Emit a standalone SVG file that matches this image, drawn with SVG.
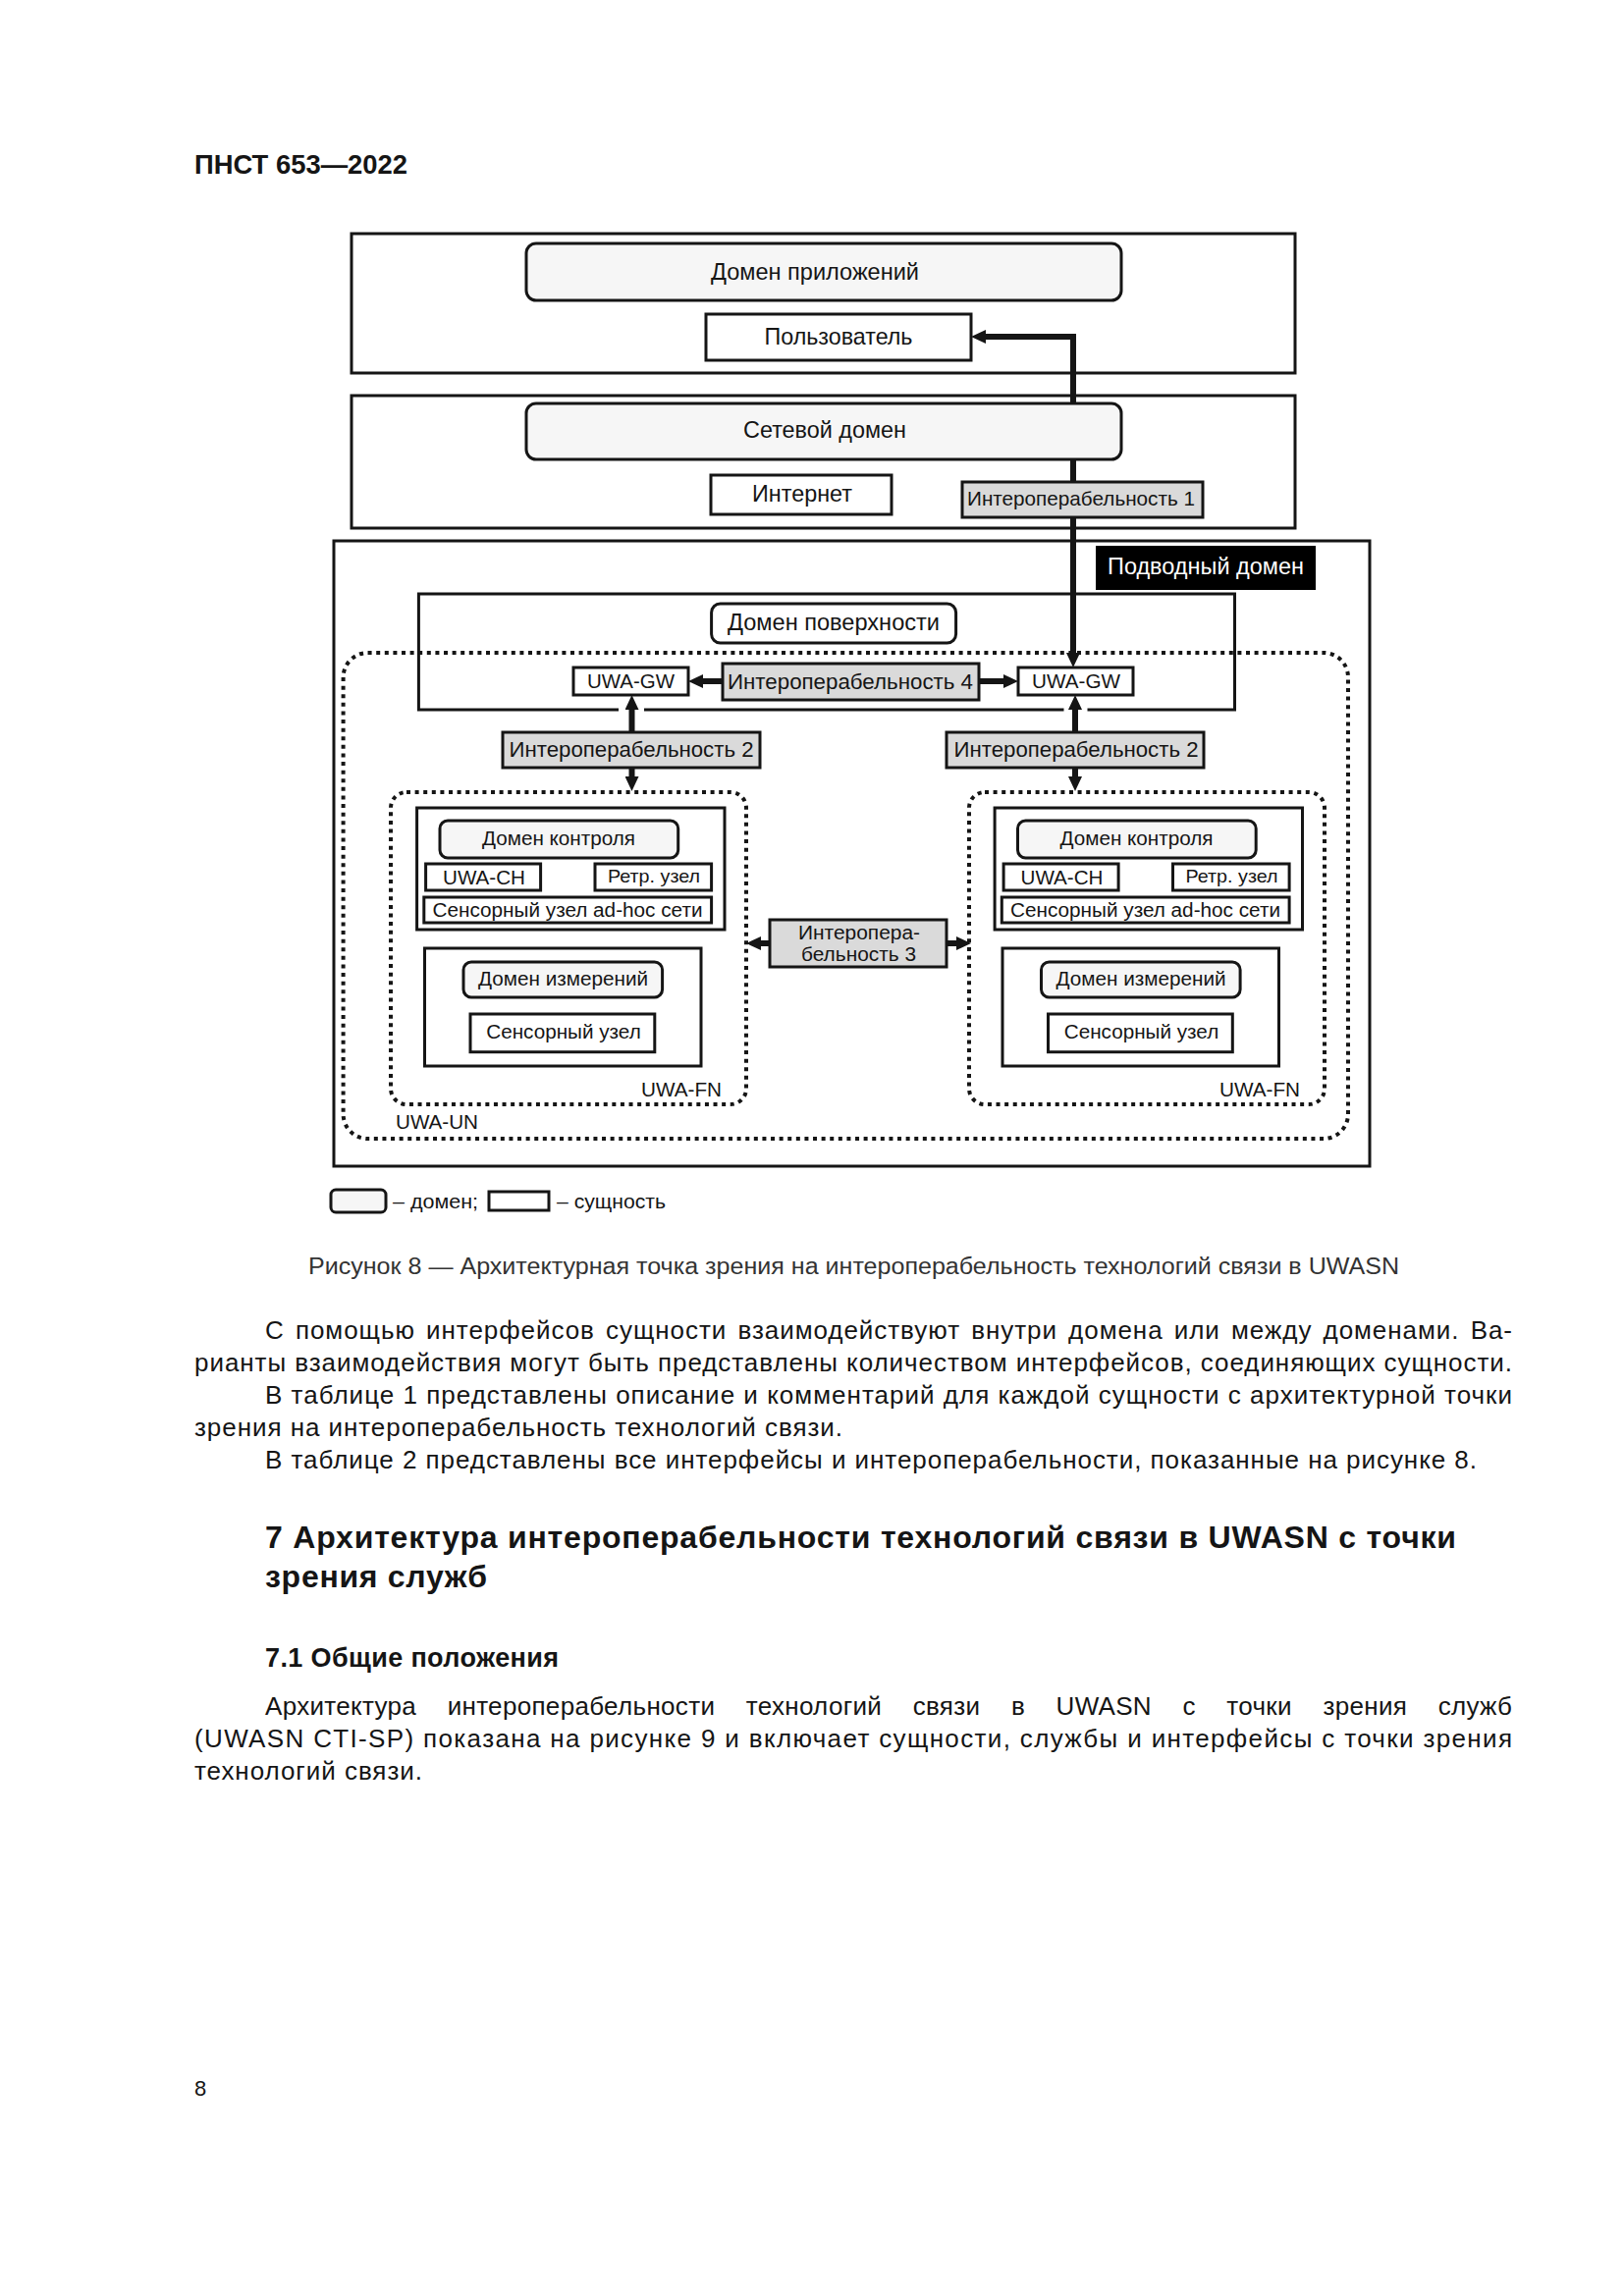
<svg xmlns="http://www.w3.org/2000/svg" width="1654" height="2339" viewBox="0 0 1654 2339">
<defs>
<style>
text{font-family:"Liberation Sans",Arial,sans-serif;fill:#151515}
.c{text-anchor:middle}
.box{fill:#fff;stroke:#151515;stroke-width:3}
.dom{fill:#f6f6f6;stroke:#151515;stroke-width:3}
.ent{fill:#fff;stroke:#151515;stroke-width:3}
.iop{fill:#dadada;stroke:#151515;stroke-width:3}
.dot{fill:none;stroke:#151515;stroke-width:4;stroke-dasharray:4 4.6}
.conn{fill:none;stroke:#151515;stroke-width:6}
.body{font-size:26px}
</style>
<marker id="ah" viewBox="0 0 15 14" refX="0" refY="7" markerWidth="15" markerHeight="14" markerUnits="userSpaceOnUse" orient="auto-start-reverse">
<path d="M0,0 L15,7 L0,14 z" fill="#151515"/>
</marker>
</defs>
<rect width="1654" height="2339" fill="#fff"/>

<text x="198" y="177" font-size="27" font-weight="bold" textLength="217" lengthAdjust="spacingAndGlyphs">ПНСТ 653—2022</text>

<!-- containers -->
<g id="app-domain-area"><rect class="box" x="358" y="238" width="961" height="142"/></g>
<g id="network-domain-area"><rect class="box" x="358" y="403" width="961" height="135"/></g>
<g id="underwater-domain-area"><rect class="box" x="340" y="551" width="1055" height="637"/></g>
<g id="surface-area"><path d="M656,723 H1083.5 M1107.5,723 H1257.5 V605 H426.4 V723 H630" fill="none" stroke="#151515" stroke-width="3"/></g>
<g id="uwa-un"><rect class="dot" x="349.6" y="665" width="1023.4" height="495" rx="25"/>
<text x="403" y="1150" font-size="20.5" textLength="84" lengthAdjust="spacingAndGlyphs">UWA-UN</text></g>
<g id="uwa-fn-left"><rect class="dot" x="398" y="807" width="362" height="318" rx="16"/>
<text x="735" y="1117" font-size="20.5" text-anchor="end" textLength="82" lengthAdjust="spacingAndGlyphs">UWA-FN</text></g>
<g id="uwa-fn-right" transform="translate(589,0)"><rect class="dot" x="398" y="807" width="362" height="318" rx="16"/>
<text x="735" y="1117" font-size="20.5" text-anchor="end" textLength="82" lengthAdjust="spacingAndGlyphs">UWA-FN</text></g>

<!-- connectors -->
<g id="connectors">
<path class="conn" d="M1093,665 V343 H1004" marker-start="url(#ah)" marker-end="url(#ah)"/>
<path class="conn" d="M736,694 H716" marker-end="url(#ah)"/>
<path class="conn" d="M997,694 H1022" marker-end="url(#ah)"/>
<path class="conn" d="M643.5,746 V723" marker-end="url(#ah)"/>
<path class="conn" d="M643.5,782 V791" marker-end="url(#ah)"/>
<path class="conn" d="M1095,746 V723" marker-end="url(#ah)"/>
<path class="conn" d="M1095,782 V791" marker-end="url(#ah)"/>
<path class="conn" d="M784,961 H775" marker-end="url(#ah)"/>
<path class="conn" d="M964,961 H974" marker-end="url(#ah)"/>
</g>

<!-- nodes -->
<g id="domain-app"><rect class="dom" x="536" y="248" width="606" height="58" rx="10"/>
<text class="c" x="830" y="285" font-size="24" textLength="212" lengthAdjust="spacingAndGlyphs">Домен приложений</text></g>
<g id="user"><rect class="ent" x="719" y="320" width="270" height="47"/>
<text class="c" x="854" y="351" font-size="24" textLength="151" lengthAdjust="spacingAndGlyphs">Пользователь</text></g>
<g id="domain-net"><rect class="dom" x="536" y="411" width="606" height="57" rx="10"/>
<text class="c" x="840" y="446" font-size="24" textLength="166" lengthAdjust="spacingAndGlyphs">Сетевой домен</text></g>
<g id="internet"><rect class="ent" x="724" y="484" width="184" height="40"/>
<text class="c" x="817" y="511" font-size="24" textLength="102" lengthAdjust="spacingAndGlyphs">Интернет</text></g>
<g id="iop1"><rect class="iop" x="980" y="491" width="245" height="36"/>
<text class="c" x="1101" y="515" font-size="21" textLength="232" lengthAdjust="spacingAndGlyphs">Интероперабельность 1</text></g>
<g id="underwater-label"><rect x="1116" y="556" width="224" height="45" fill="#000"/>
<text class="c" x="1228" y="585" font-size="23" style="fill:#fff" textLength="200" lengthAdjust="spacingAndGlyphs">Подводный домен</text></g>
<g id="domain-surface"><rect class="ent" x="724.6" y="615" width="249" height="40" rx="9"/>
<text class="c" x="849" y="642" font-size="23" textLength="216" lengthAdjust="spacingAndGlyphs">Домен поверхности</text></g>
<g id="gw-left"><rect class="ent" x="584" y="680" width="117" height="28"/>
<text class="c" x="642.5" y="701" font-size="20" textLength="89" lengthAdjust="spacingAndGlyphs">UWA-GW</text></g>
<g id="iop4"><rect class="iop" x="736" y="676" width="261" height="37"/>
<text class="c" x="866" y="702" font-size="22" textLength="250" lengthAdjust="spacingAndGlyphs">Интероперабельность 4</text></g>
<g id="gw-right"><rect class="ent" x="1037" y="680" width="117" height="28"/>
<text class="c" x="1096" y="701" font-size="20" textLength="90" lengthAdjust="spacingAndGlyphs">UWA-GW</text></g>
<g id="iop2-left"><rect class="iop" x="512" y="746" width="262" height="36"/>
<text class="c" x="643" y="771" font-size="22" textLength="249" lengthAdjust="spacingAndGlyphs">Интероперабельность 2</text></g>
<g id="iop2-right"><rect class="iop" x="964" y="746" width="262" height="36"/>
<text class="c" x="1096" y="771" font-size="22" textLength="249" lengthAdjust="spacingAndGlyphs">Интероперабельность 2</text></g>
<g id="iop3"><rect class="iop" x="784" y="937" width="180" height="48"/>
<text class="c" x="875" y="957" font-size="20" textLength="124" lengthAdjust="spacingAndGlyphs">Интеропера-</text>
<text class="c" x="874.5" y="979" font-size="20" textLength="117" lengthAdjust="spacingAndGlyphs">бельность 3</text></g>

<g id="fn-left">
<g id="ctrl-left"><rect class="ent" x="424.6" y="823" width="313.4" height="124"/></g>
<g id="dctrl-left"><rect class="dom" x="448" y="836" width="242.7" height="38" rx="8"/>
<text class="c" x="569" y="861" font-size="20" textLength="156" lengthAdjust="spacingAndGlyphs">Домен контроля</text></g>
<g id="ch-left"><rect class="ent" x="433.6" y="880" width="117" height="27"/>
<text class="c" x="493" y="901" font-size="21" textLength="84" lengthAdjust="spacingAndGlyphs">UWA-CH</text></g>
<g id="retr-left"><rect class="ent" x="606" y="880" width="118.6" height="27"/>
<text class="c" x="666" y="899" font-size="19" textLength="94" lengthAdjust="spacingAndGlyphs">Ретр. узел</text></g>
<g id="adhoc-left"><rect class="ent" x="431.8" y="914" width="292.8" height="26"/>
<text class="c" x="578" y="934" font-size="20" textLength="275" lengthAdjust="spacingAndGlyphs">Сенсорный узел ad-hoc сети</text></g>
<g id="meas-left"><rect class="ent" x="432.5" y="966" width="281.5" height="120"/></g>
<g id="dmeas-left"><rect class="dom" x="472" y="980" width="202.6" height="36" rx="8"/>
<text class="c" x="573.5" y="1004" font-size="21" textLength="173" lengthAdjust="spacingAndGlyphs">Домен измерений</text></g>
<g id="sens-left"><rect class="ent" x="479" y="1033" width="187.8" height="38.7"/>
<text class="c" x="574" y="1058" font-size="21" textLength="157.5" lengthAdjust="spacingAndGlyphs">Сенсорный узел</text></g>
</g>

<g id="fn-right" transform="translate(588.5,0)">
<g id="ctrl-right"><rect class="ent" x="424.6" y="823" width="313.4" height="124"/></g>
<g id="dctrl-right"><rect class="dom" x="448" y="836" width="242.7" height="38" rx="8"/>
<text class="c" x="569" y="861" font-size="20" textLength="156" lengthAdjust="spacingAndGlyphs">Домен контроля</text></g>
<g id="ch-right"><rect class="ent" x="433.6" y="880" width="117" height="27"/>
<text class="c" x="493" y="901" font-size="21" textLength="84" lengthAdjust="spacingAndGlyphs">UWA-CH</text></g>
<g id="retr-right"><rect class="ent" x="606" y="880" width="118.6" height="27"/>
<text class="c" x="666" y="899" font-size="19" textLength="94" lengthAdjust="spacingAndGlyphs">Ретр. узел</text></g>
<g id="adhoc-right"><rect class="ent" x="431.8" y="914" width="292.8" height="26"/>
<text class="c" x="578" y="934" font-size="20" textLength="275" lengthAdjust="spacingAndGlyphs">Сенсорный узел ad-hoc сети</text></g>
<g id="meas-right"><rect class="ent" x="432.5" y="966" width="281.5" height="120"/></g>
<g id="dmeas-right"><rect class="dom" x="472" y="980" width="202.6" height="36" rx="8"/>
<text class="c" x="573.5" y="1004" font-size="21" textLength="173" lengthAdjust="spacingAndGlyphs">Домен измерений</text></g>
<g id="sens-right"><rect class="ent" x="479" y="1033" width="187.8" height="38.7"/>
<text class="c" x="574" y="1058" font-size="21" textLength="157.5" lengthAdjust="spacingAndGlyphs">Сенсорный узел</text></g>
</g>

<!-- legend -->
<g id="legend">
<rect class="dom" x="337" y="1212" width="56" height="23" rx="5"/>
<text x="400" y="1231" font-size="20" textLength="87" lengthAdjust="spacingAndGlyphs">– домен;</text>
<rect class="ent" x="498" y="1214" width="61" height="19"/>
<text x="567" y="1231" font-size="20" textLength="111" lengthAdjust="spacingAndGlyphs">– сущность</text>
</g>

<text x="314" y="1298" font-size="23" style="fill:#333" textLength="1111" lengthAdjust="spacingAndGlyphs">Рисунок 8 — Архитектурная точка зрения на интероперабельность технологий связи в UWASN</text>

<g id="body-text" class="body">
<text x="270" y="1364" font-size="26" word-spacing="3" textLength="1270" lengthAdjust="spacing">С помощью интерфейсов сущности взаимодействуют внутри домена или между доменами. Ва-</text>
<text x="198" y="1397" font-size="26" textLength="1342" lengthAdjust="spacing">рианты взаимодействия могут быть представлены количеством интерфейсов, соединяющих сущности.</text>
<text x="270" y="1430" font-size="26" textLength="1270" lengthAdjust="spacing">В таблице 1 представлены описание и комментарий для каждой сущности с архитектурной точки</text>
<text x="198" y="1463" font-size="26" textLength="660" lengthAdjust="spacing">зрения на интероперабельность технологий связи.</text>
<text x="270" y="1496" font-size="26" textLength="1234" lengthAdjust="spacing">В таблице 2 представлены все интерфейсы и интероперабельности, показанные на рисунке 8.</text>

<text x="270" y="1577" font-size="32" font-weight="bold" textLength="1213" lengthAdjust="spacing">7 Архитектура интероперабельности технологий связи в UWASN с точки</text>
<text x="270" y="1617" font-size="32" font-weight="bold" textLength="226" lengthAdjust="spacing">зрения служб</text>

<text x="270" y="1698" font-size="27" font-weight="bold" textLength="299" lengthAdjust="spacing">7.1 Общие положения</text>

<text x="270" y="1747" font-size="26" word-spacing="24" textLength="1270" lengthAdjust="spacing">Архитектура интероперабельности технологий связи в UWASN с точки зрения служб</text>
<text x="198" y="1780" font-size="26" textLength="1342" lengthAdjust="spacing">(UWASN CTI-SP) показана на рисунке 9 и включает сущности, службы и интерфейсы с точки зрения</text>
<text x="198" y="1813" font-size="26" textLength="232" lengthAdjust="spacing">технологий связи.</text>
</g>

<text x="198" y="2135" font-size="22">8</text>
</svg>
